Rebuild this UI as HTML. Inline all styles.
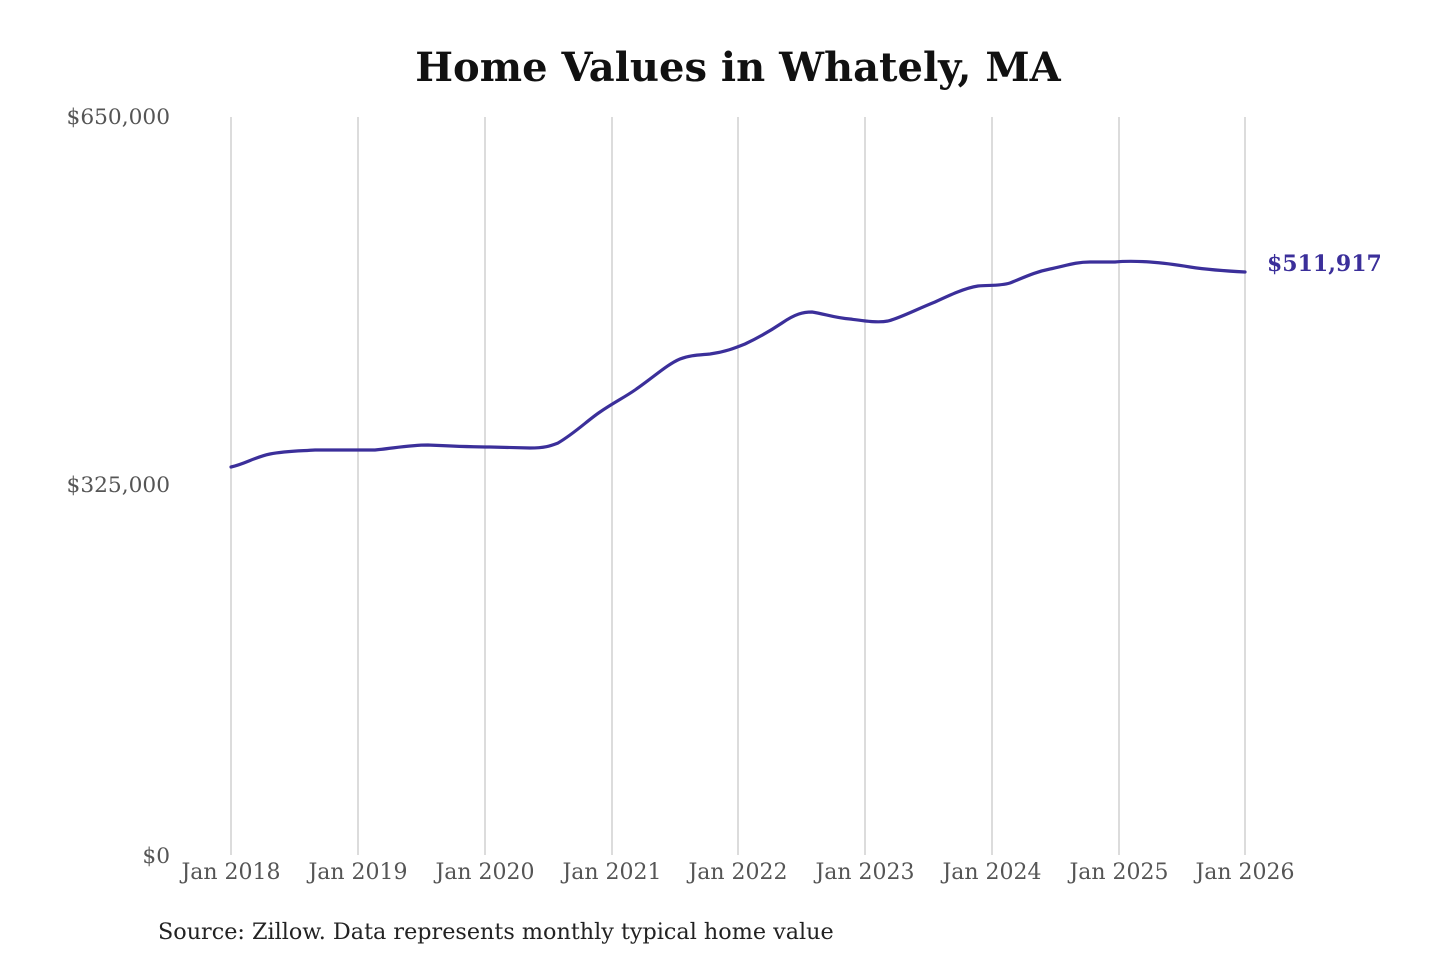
<!DOCTYPE html>
<html><head><meta charset="utf-8"><style>
html,body{margin:0;padding:0;background:#fff;}
svg text{font-family:"DejaVu Serif","Liberation Serif",serif;}
</style></head><body>
<svg width="1440" height="960" viewBox="0 0 1440 960" xmlns="http://www.w3.org/2000/svg">
<rect width="1440" height="960" fill="#fff"/>
<text x="738" y="81" text-anchor="middle" font-size="40" font-weight="bold" fill="#111">Home Values in Whately, MA</text>
<g stroke="#c4c4c4" stroke-width="1.2">
<line x1="231" y1="117" x2="231" y2="855"/>
<line x1="358" y1="117" x2="358" y2="855"/>
<line x1="485" y1="117" x2="485" y2="855"/>
<line x1="612" y1="117" x2="612" y2="855"/>
<line x1="738" y1="117" x2="738" y2="855"/>
<line x1="865" y1="117" x2="865" y2="855"/>
<line x1="992" y1="117" x2="992" y2="855"/>
<line x1="1119" y1="117" x2="1119" y2="855"/>
<line x1="1245" y1="117" x2="1245" y2="855"/>
</g>
<g font-size="21.7" fill="#555" text-anchor="end">
<text x="170" y="124">$650,000</text>
<text x="170" y="492">$325,000</text>
<text x="170" y="863">$0</text>
</g>
<g font-size="22" fill="#555" text-anchor="middle">
<text x="231" y="879">Jan 2018</text>
<text x="358" y="879">Jan 2019</text>
<text x="485" y="879">Jan 2020</text>
<text x="612" y="879">Jan 2021</text>
<text x="738" y="879">Jan 2022</text>
<text x="865" y="879">Jan 2023</text>
<text x="992" y="879">Jan 2024</text>
<text x="1119" y="879">Jan 2025</text>
<text x="1245" y="879">Jan 2026</text>
</g>
<path fill="none" stroke="#3b2f9a" stroke-width="3.2" stroke-linejoin="round" stroke-linecap="round"
d="M231,467 C245,464 255,457 270,454 C285,451 300,451 315,450 L375,450 C395,448 410,445 428,445 C450,446 470,447 490,447 L530,448 C545,448 550,446 558,443 C575,433 588,420 600,412 C613,403 625,397 635,390 C655,376 668,364 680,359 C690,355 700,355 710,354 C725,352 735,348 745,344 C760,337 770,331 782,323 C795,314 803,312 812,312 C825,314 835,318 850,319 C865,321 878,323 888,321 C900,318 915,310 935,302 C950,295 965,288 978,286 C990,285 1000,286 1010,283 C1025,277 1035,272 1050,269 C1065,266 1075,262 1090,262 L1115,262 C1125,261 1135,261 1150,262 C1165,263 1178,265 1190,267 C1210,270 1225,271 1245,272"/>
<text x="1267" y="271" font-size="22" font-weight="bold" fill="#3b2f9a">$511,917</text>
<text x="158" y="939" font-size="22.3" fill="#222">Source: Zillow. Data represents monthly typical home value</text>
</svg>
</body></html>
